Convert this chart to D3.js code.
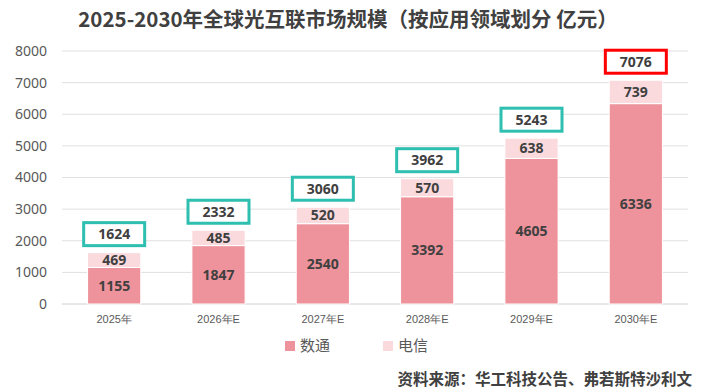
<!DOCTYPE html>
<html>
<head>
<meta charset="utf-8">
<script src="https://cdn.jsdelivr.net/npm/d3@7"></script>
<style>
  body { margin: 0; background: #fff; }
  svg { font-family: "Noto Sans CJK SC", "Noto Sans", sans-serif; }
</style>
</head>
<body>
<div id="chart"></div>
<script>
// Data
const years = ["2025年", "2026年E", "2027年E", "2028年E", "2029年E", "2030年E"];
const datacom = [1155, 1847, 2540, 3392, 4605, 6336];   // 数通
const telecom = [469, 485, 520, 570, 638, 739];        // 电信
const totals = [1624, 2332, 3060, 3962, 5243, 7076];
const seriesNames = ["数通", "电信"];
const yTicks = [0, 1000, 2000, 3000, 4000, 5000, 6000, 7000, 8000];

const W = 701, H = 389;
const margin = { top: 51, right: 13, bottom: 85, left: 62 };
const width = W - margin.left - margin.right;
const height = H - margin.top - margin.bottom;

const colors = { "数通": "#ee939c", "电信": "#fadadd" };

const svg = d3.select("#chart")
  .append("svg")
    .attr("width", W)
    .attr("height", H);

// Title
svg.append("text")
  .attr("x", 348)
  .attr("y", 27)
  .attr("text-anchor", "middle")
  .attr("font-size", 20.5)
  .attr("font-weight", "bold")
  .attr("fill", "#404040")
  .text("2025-2030年全球光互联市场规模（按应用领域划分 亿元）");

const g = svg.append("g")
  .attr("transform", `translate(${margin.left}, ${margin.top})`);

// Scales
const x = d3.scaleBand().domain(years).range([0, width]).paddingInner(0.49).paddingOuter(0.245);
const y = d3.scaleLinear().domain([0, 8000]).range([height, 0]);

// Grid
g.append("g")
  .selectAll("line")
  .data(yTicks)
  .join("line")
    .attr("x1", 0)
    .attr("x2", width)
    .attr("y1", d => y(d))
    .attr("y2", d => y(d))
    .attr("stroke", d => d === 0 ? "#d0d0d0" : "#e0e0e0")
    .attr("stroke-width", 1);

// Y axis labels
const yAxis = g.append("g")
  .call(d3.axisLeft(y).tickValues(yTicks).tickFormat(d3.format("d")).tickSize(0).tickPadding(15));
yAxis.select(".domain").remove();
yAxis.selectAll("text")
  .attr("font-size", 14)
  .attr("fill", "#595959")
  .attr("font-family", "'Noto Sans', sans-serif");

// X axis labels
const xAxis = g.append("g")
  .attr("transform", `translate(0, ${height})`)
  .call(d3.axisBottom(x).tickSize(0).tickPadding(11));
xAxis.select(".domain").remove();
xAxis.selectAll("text")
  .attr("font-size", 11)
  .attr("fill", "#595959");

// Stacked data
const rows = years.map((yr, i) => ({ year: yr, "数通": datacom[i], "电信": telecom[i], total: totals[i] }));
const stacked = d3.stack().keys(seriesNames)(rows);

const layers = g.selectAll(".layer")
  .data(stacked)
  .join("g")
    .attr("class", "layer")
    .attr("fill", d => colors[d.key]);

layers.selectAll("rect")
  .data(d => d)
  .join("rect")
    .attr("x", d => x(d.data.year))
    .attr("width", x.bandwidth())
    .attr("y", d => y(d[1]))
    .attr("height", d => y(d[0]) - y(d[1]))
    .attr("stroke", "#fff")
    .attr("stroke-width", 1);

// Segment labels
layers.selectAll("text")
  .data(d => d.map(v => ({ v, key: d.key })))
  .join("text")
    .attr("x", d => x(d.v.data.year) + x.bandwidth() / 2)
    .attr("y", d => (y(d.v[0]) + y(d.v[1])) / 2)
    .attr("dy", "0.35em")
    .attr("text-anchor", "middle")
    .attr("font-size", 14)
    .attr("font-weight", "bold")
    .attr("fill", "#404040")
    .attr("font-family", "'Open Sans', 'Noto Sans', sans-serif")
    .text(d => d.v.data[d.key]);

// Total boxes
const boxW = 61, boxH = 23;
const totalG = g.selectAll(".total")
  .data(rows)
  .join("g")
    .attr("class", "total")
    .attr("transform", d => `translate(${x(d.year) + x.bandwidth() / 2}, ${y(d.total) - 7 - boxH / 2})`);

totalG.append("rect")
  .attr("x", -boxW / 2)
  .attr("y", -boxH / 2)
  .attr("width", boxW)
  .attr("height", boxH)
  .attr("fill", "#fff")
  .attr("stroke", (d, i) => i === rows.length - 1 ? "#ff0000" : "#2ebfb1")
  .attr("stroke-width", 3);

totalG.append("text")
  .attr("dy", "0.35em")
  .attr("text-anchor", "middle")
  .attr("font-size", 14)
  .attr("font-weight", "bold")
  .attr("fill", "#404040")
  .attr("font-family", "'Open Sans', 'Noto Sans', sans-serif")
  .text(d => d.total);

// Legend
const legend = svg.append("g").attr("transform", "translate(285, 346)");
const li = legend.selectAll("g")
  .data(seriesNames)
  .join("g")
    .attr("transform", (d, i) => `translate(${i * 98}, 0)`);
li.append("rect")
  .attr("x", 0)
  .attr("y", -5)
  .attr("width", 10)
  .attr("height", 10)
  .attr("fill", d => colors[d]);
li.append("text")
  .attr("x", 15)
  .attr("dy", "0.35em")
  .attr("font-size", 15)
  .attr("fill", "#595959")
  .text(d => d);

// Source
svg.append("text")
  .attr("x", 692)
  .attr("y", 380)
  .attr("dy", "0.35em")
  .attr("text-anchor", "end")
  .attr("font-size", 15.5)
  .attr("font-weight", "bold")
  .attr("fill", "#404040")
  .text("资料来源：华工科技公告、弗若斯特沙利文");
</script>
</body>
</html>
